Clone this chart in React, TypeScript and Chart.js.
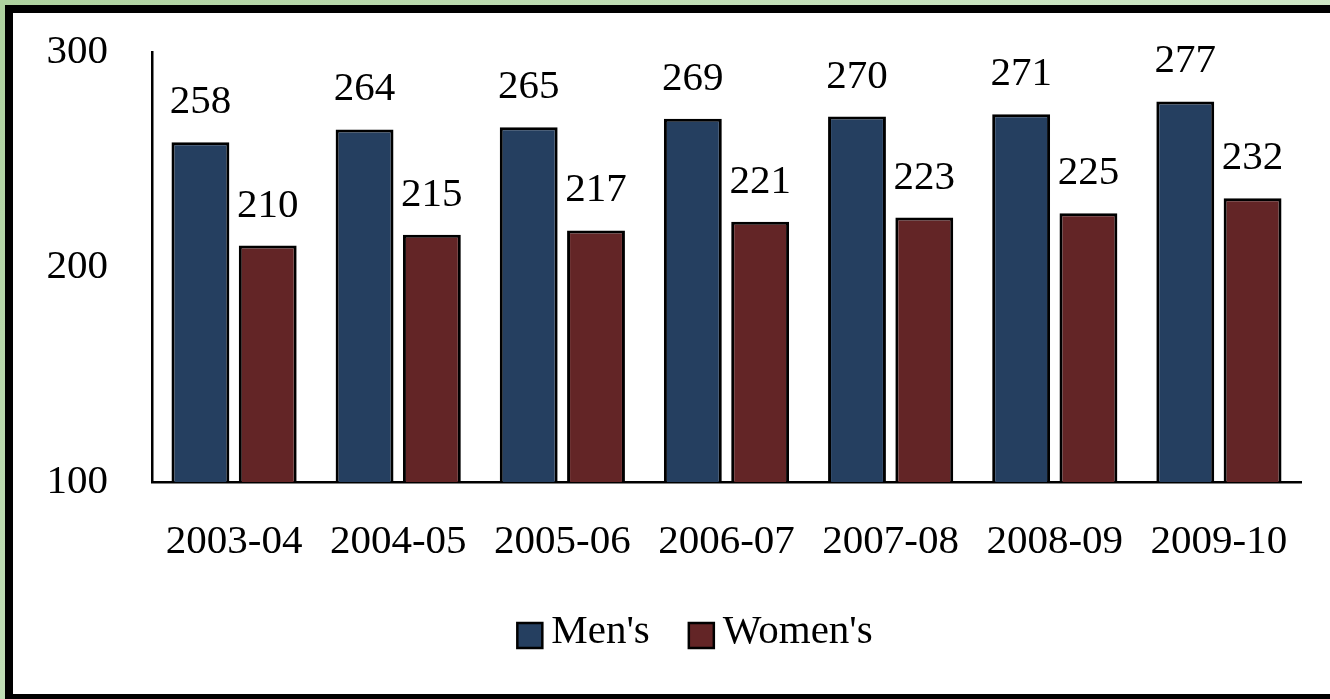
import React, { useEffect, useRef } from "react";
import { Chart, registerables } from "chart.js";

Chart.register(...registerables);

const categories = ["2003-04", "2004-05", "2005-06", "2006-07", "2007-08", "2008-09", "2009-10"];
const mensValues = [258, 264, 265, 269, 270, 271, 277];
const womensValues = [210, 215, 217, 221, 223, 225, 232];
const yTickValues = [100, 200, 300];
const seriesNames = ["Men's", "Women's"];
const seriesColors = ["#253f60", "#632526"];

const FONT = "'Liberation Serif', 'Times New Roman', serif";
const FONT_SIZE = 41;

const valueLabels = {
  id: "valueLabels",
  afterDatasetsDraw(chart: any) {
    const ctx = chart.ctx;
    ctx.save();
    ctx.font = `${FONT_SIZE}px ${FONT}`;
    ctx.fillStyle = "#000";
    ctx.textAlign = "center";
    ctx.textBaseline = "alphabetic";
    chart.data.datasets.forEach((ds: any, i: number) => {
      const meta = chart.getDatasetMeta(i);
      meta.data.forEach((bar: any, j: number) => {
        ctx.fillText(String(ds.data[j]), bar.x, bar.y - 29);
      });
    });
    ctx.restore();
  },
};

const customLegend = {
  id: "customLegend",
  afterDraw(chart: any) {
    const ctx = chart.ctx;
    ctx.save();
    ctx.font = `${FONT_SIZE}px ${FONT}`;
    const box = 25;
    const gapBoxText = 9;
    const gapItems = 39;
    const widths = seriesNames.map((n) => ctx.measureText(n).width);
    let total = 0;
    widths.forEach((w, i) => {
      total += box + gapBoxText + w;
      if (i < widths.length - 1) total += gapItems;
    });
    const center = 695;
    let x = center - total / 2;
    const boxTop = 623;
    const baseline = 643;
    seriesNames.forEach((name, i) => {
      ctx.fillStyle = seriesColors[i];
      ctx.fillRect(x, boxTop, box, box);
      ctx.lineWidth = 2.5;
      ctx.strokeStyle = "#000";
      ctx.strokeRect(x, boxTop, box, box);
      ctx.fillStyle = "#000";
      ctx.textAlign = "left";
      ctx.textBaseline = "alphabetic";
      ctx.fillText(name, x + box + gapBoxText, baseline);
      x += box + gapBoxText + widths[i] + gapItems;
    });
    ctx.restore();
  },
};

export default function App() {
  const canvasRef = useRef<HTMLCanvasElement | null>(null);

  useEffect(() => {
    if (!canvasRef.current) return;
    const chart = new Chart(canvasRef.current, {
      type: "bar",
      data: {
        labels: categories,
        datasets: [
          {
            label: seriesNames[0],
            data: mensValues,
            backgroundColor: seriesColors[0],
            borderColor: "#000",
            borderWidth: 3,
            borderSkipped: false,
            categoryPercentage: 0.82,
            barPercentage: 0.86,
          },
          {
            label: seriesNames[1],
            data: womensValues,
            backgroundColor: seriesColors[1],
            borderColor: "#000",
            borderWidth: 3,
            borderSkipped: false,
            categoryPercentage: 0.82,
            barPercentage: 0.86,
          },
        ],
      },
      options: {
        responsive: false,
        animation: false,
        devicePixelRatio: 1,
        layout: { padding: { left: 0, right: 29, top: 52, bottom: 0 } },
        plugins: {
          legend: { display: false },
          tooltip: { enabled: false },
        },
        scales: {
          x: {
            grid: { display: false, drawTicks: false },
            border: { display: true, color: "#000", width: 2.5 },
            ticks: {
              color: "#000",
              font: { family: FONT, size: FONT_SIZE },
              padding: 36,
              maxRotation: 0,
              autoSkip: false,
            },
            afterFit(scale: any) {
              scale.height = 217;
              scale.paddingLeft = 0;
              scale.paddingRight = 0;
            },
          },
          y: {
            min: 100,
            max: 300,
            grid: { display: false, drawTicks: false },
            border: { display: true, color: "#000", width: 2.5 },
            ticks: {
              stepSize: 100,
              color: "#000",
              font: { family: FONT, size: FONT_SIZE },
              padding: 44,
              callback: (v: any) => (yTickValues.includes(Number(v)) ? String(v) : ""),
            },
            afterFit(scale: any) {
              scale.width = 152;
              scale.paddingTop = 0;
              scale.paddingBottom = 0;
            },
          },
        },
      },
      plugins: [valueLabels, customLegend],
    });
    return () => chart.destroy();
  }, []);

  return (
    <div
      style={{
        position: "fixed",
        left: 0,
        top: 0,
        width: 1330,
        height: 699,
        overflow: "hidden",
        background: "linear-gradient(135deg, #aed29f 0%, #c9e4c0 50%, #d8ecd2 100%)",
      }}
    >
      <div
        style={{
          position: "absolute",
          left: 5,
          top: 5,
          width: 1345,
          height: 697,
          boxSizing: "border-box",
          border: "8px solid #000",
          background: "#fff",
        }}
      />
      <canvas
        ref={canvasRef}
        width={1330}
        height={699}
        style={{ position: "absolute", left: 0, top: 0, width: 1330, height: 699 }}
      />
    </div>
  );
}
